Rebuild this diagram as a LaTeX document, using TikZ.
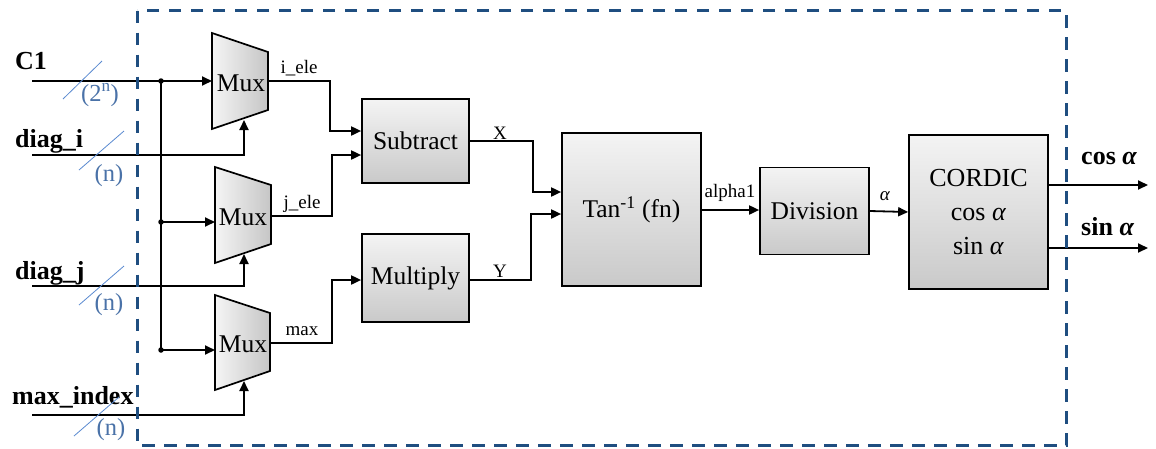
\documentclass[tikz,border=0pt]{standalone}
\usepackage{fontspec}
\setmainfont{Liberation Serif}
\usetikzlibrary{arrows.meta,calc}
\definecolor{frameblue}{HTML}{1F4E80}
\definecolor{busblue}{HTML}{4A72A8}
\definecolor{slashblue}{HTML}{5A8AD0}

\begin{document}
\begin{tikzpicture}[x=1pt,y=-1pt,
  wire/.style={line width=1.8pt, black},
  arr/.style={wire, -{Triangle[length=10pt,width=9pt]}},
  block/.style={draw=black, line width=1.7pt, top color=gray!9, bottom color=gray!42,
                font=\fontsize{25.5}{29}\selectfont, align=center, inner sep=0pt},
  muxshape/.style={draw=black, line width=1.7pt, left color=gray!8, right color=gray!45},
  muxtext/.style={font=\fontsize{25.5}{27}\selectfont, inner sep=0pt},
  pin/.style={font=\bfseries\fontsize{26}{28}\selectfont, inner sep=0pt, anchor=base west},
  sig/.style={font=\fontsize{19}{21}\selectfont, inner sep=0pt, anchor=base},
  bus/.style={font=\fontsize{24.5}{26}\selectfont, text=busblue, inner sep=0pt, anchor=base},
  buscut/.style={slashblue, line width=0.8pt},
  dot/.style={circle, fill=black, inner sep=0pt, minimum size=5.5pt},
]
\useasboundingbox (0,0) rectangle (1156,448);

% ---- multiplexers ----
\shade[muxshape] (212,33) -- (268,52) -- (268,110) -- (212,129) -- cycle;
\shade[muxshape] (215,167) -- (271,185) -- (271,244) -- (215,263) -- cycle;
\shade[muxshape] (215,295) -- (270,313) -- (270,371) -- (215,390) -- cycle;
\node[muxtext] (mux1) at (241,83) {Mux};
\node[muxtext] (mux2) at (243,217) {Mux};
\node[muxtext] (mux3) at (243,344) {Mux};
\coordinate (m1in) at (212,81);  \coordinate (m1sel) at (244,120); \coordinate (m1out) at (268,81);
\coordinate (m2in) at (215,222); \coordinate (m2sel) at (244,254); \coordinate (m2out) at (271,216);
\coordinate (m3in) at (215,350); \coordinate (m3sel) at (244,381); \coordinate (m3out) at (270,343);

% ---- processing blocks ----
\node[block, minimum width=107pt, minimum height=84pt]  (sub) at (415.5,141) {Subtract};
\node[block, minimum width=107pt, minimum height=88pt]  (mul) at (415.5,278) {Multiply};
\node[block, minimum width=139pt, minimum height=153pt] (tan) at (631.5,209.5) {Tan\textsuperscript{-1} (fn)};
\node[block, minimum width=109pt, minimum height=87pt]  (div) at (814.5,211) {Division};
\node[block, minimum width=139pt, minimum height=154pt, font=\fontsize{26}{34}\selectfont] (cor) at (978.5,212)
  {CORDIC\\cos \textit{α}\\sin \textit{α}};

% ---- external ports ----
\coordinate (inC1) at (32,81);
\coordinate (inDi) at (32,155);
\coordinate (inDj) at (32,286);
\coordinate (inMx) at (32,415);
\coordinate (outCos) at (1148,185);
\coordinate (outSin) at (1148,248);
\node[pin] (lC1) at (15,69) {C1};
\node[pin] (lDi) at (15,147) {diag\_i};
\node[pin] (lDj) at (15,279) {diag\_j};
\node[pin] (lMx) at (12,404) {max\_index};
\node[pin] (lCos) at (1081,164) {cos \textit{α}};
\node[pin] (lSin) at (1081,235) {sin \textit{α}};

% ---- input wiring ----
\node[dot] (j1) at (161,81) {};
\node[dot] (j2) at (161,222) {};
\node[dot] (j3) at (161,350) {};
\draw[arr] (inC1) -- (m1in);
\draw[wire] (j1.center) -- (j3.center);
\draw[arr] (j2.center) -- (m2in);
\draw[arr] (j3.center) -- (m3in);
\draw[arr] (inDi) -| (m1sel);
\draw[arr] (inDj) -| (m2sel);
\draw[arr] (inMx) -| (m3sel);

% bus width marks
\draw[buscut] (63,99) -- (102,61);
\draw[buscut] (79,170) -- (124,131);
\draw[buscut] (79,305) -- (124,266);
\draw[buscut] (74,436) -- (119,397);
\node[bus] (w1) at (100,101) {(2\textsuperscript{n})};
\node[bus] (w2) at (109,181) {(n)};
\node[bus] (w3) at (109,310) {(n)};
\node[bus] (w4) at (111,435) {(n)};

% ---- datapath ----
\draw[arr] (m1out) -- ++(62,0) |- ([yshift=10pt]sub.west);
\draw[arr] (m2out) -- ++(61,0) |- ([yshift=-14pt]sub.west);
\draw[arr] (m3out) -- ++(62,0) |- ([yshift=-2pt]mul.west);
\draw[arr] (sub.east) -- ++(63,0) |- ([yshift=17.5pt]tan.west);
\draw[arr] ([yshift=-2pt]mul.east) -- ++(61,0) |- ([yshift=-4.5pt]tan.west);
\draw[arr] ([yshift=-0.5pt]tan.east) -- ([yshift=-0.5pt]tan.east -| div.west);
\draw[arr] (div.east) -- (cor.west);
\draw[arr] ([yshift=27pt]cor.east) -- (outCos);
\draw[arr] ([yshift=-36pt]cor.east) -- (outSin);

\node[sig] (sI) at (299,73) {i\_ele};
\node[sig] (sJ) at (302,208) {j\_ele};
\node[sig] (sM) at (302,335) {max};
\node[sig] (sX) at (500,139) {X};
\node[sig] (sY) at (500,277) {Y};
\node[sig] (sA1) at (730,197) {alpha1};
\node[sig] (sA) at (885,200) {\textit{α}};

% ---- module boundary ----
\draw[frameblue, line width=3pt, dash pattern=on 12.5pt off 9.5pt] (137,10.5) rectangle (1066,445.5);
\end{tikzpicture}
\end{document}
